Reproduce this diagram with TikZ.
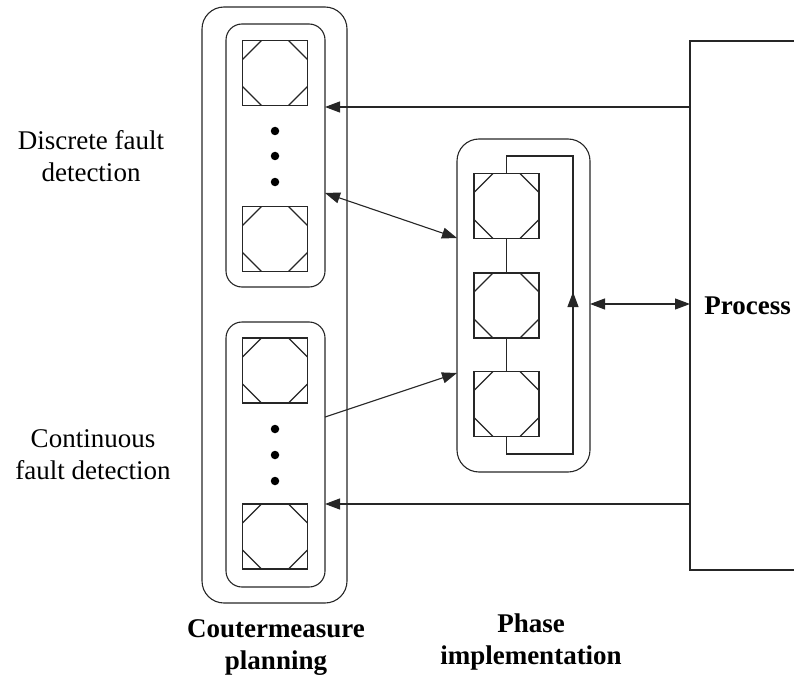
\documentclass[tikz,border=0pt]{standalone}
\usepackage{fontspec}
\setmainfont{Liberation Serif}
\usetikzlibrary{arrows.meta,calc}

\tikzset{
  ln/.style={line width=1.1pt, draw=black!85},
  headtip/.tip={Triangle[length=15pt,width=11pt]},
  arr/.style={ln, -headtip},
  darr/.style={ln, headtip-headtip},
  % square block with the four corners of an inscribed octagon cut off
  octbox/.style={ln, draw, rectangle, minimum width=65pt, minimum height=65pt,
    inner sep=0pt, outer sep=0pt,
    path picture={
      \def\cc{19pt}
      \draw[ln] ([xshift=\cc]path picture bounding box.north west) -- ([yshift=-\cc]path picture bounding box.north west);
      \draw[ln] ([xshift=-\cc]path picture bounding box.north east) -- ([yshift=-\cc]path picture bounding box.north east);
      \draw[ln] ([xshift=\cc]path picture bounding box.south west) -- ([yshift=\cc]path picture bounding box.south west);
      \draw[ln] ([xshift=-\cc]path picture bounding box.south east) -- ([yshift=\cc]path picture bounding box.south east);
    }},
  group/.style={ln, draw, rectangle, inner sep=0pt, outer sep=0pt},
  dot/.style={circle, fill=black, inner sep=0pt, minimum size=8.5pt},
  lbl/.style={align=center, font=\fontsize{27}{32}\selectfont},
  blbl/.style={align=center, font=\fontsize{27}{32}\selectfont\bfseries},
}

\begin{document}
\begin{tikzpicture}[x=1pt, y=-1pt]
  \useasboundingbox (0,0) rectangle (794,679);

  % countermeasure planning column
  \node[group, rounded corners=22pt, minimum width=145pt, minimum height=596pt] (plan) at (274.5,305) {};
  \node[group, rounded corners=16pt, minimum width=99pt, minimum height=263pt] (disc) at (275.5,155.5) {};
  \node[group, rounded corners=16pt, minimum width=99pt, minimum height=265pt] (cont) at (275.5,454.5) {};

  \node[octbox] (da) at (275,73) {};
  \node[octbox] (db) at (275,239) {};
  \node[dot] (d1) at (275,131) {};
  \node[dot] (d2) at (275,156) {};
  \node[dot] (d3) at (275,182) {};

  \node[octbox] (ca) at (275,370.5) {};
  \node[octbox] (cb) at (275,536.5) {};
  \node[dot] (c1) at (275,429) {};
  \node[dot] (c2) at (275,455) {};
  \node[dot] (c3) at (275,481) {};

  % phase implementation
  \node[group, rounded corners=22pt, minimum width=133pt, minimum height=333pt] (phase) at (523.5,305.5) {};
  \node[octbox] (p1) at (506.5,206) {};
  \node[octbox] (p2) at (506.5,305.5) {};
  \node[octbox] (p3) at (506.5,404) {};
  \draw[ln] (p1.south) -- (p2.north);
  \draw[ln] (p2.south) -- (p3.north);

  % feedback loop around the phase chain
  \coordinate (lt) at (573,156);
  \coordinate (lb) at (573,454);
  \coordinate (lm) at (573,292);
  \draw[ln] (p1.north) -- (p1.north |- lt) -- (lt) -- (lb) -- (p3.south |- lb) -- (p3.south);
  \draw[arr] (lb) -- (lm);

  % process block, open on the right
  \node[group, minimum width=115pt, minimum height=529pt, blbl] (proc) at (747.5,305.5) {Process};

  % connectors
  \draw[arr] (proc.west |- 0,107) -- (disc.east |- 0,107);
  \draw[darr] (disc.east |- 0,193) -- (phase.west |- 0,238);
  \draw[arr] (cont.east |- 0,417) -- (phase.west |- 0,373);
  \draw[arr] (proc.west |- 0,504) -- (cont.east |- 0,504);
  \draw[darr] (phase.east |- 0,304) -- (proc.west |- 0,304);

  % labels
  \node[lbl] (ldisc) at (91,156) {Discrete fault\\detection};
  \node[lbl] (lcont) at (93,455) {Continuous\\fault detection};
  \node[blbl] (lplan) at (276,648) {Coutermeasure\\planning};
  \node[blbl] (lphase) at (531,642) {Phase\\implementation};
\end{tikzpicture}
\end{document}
